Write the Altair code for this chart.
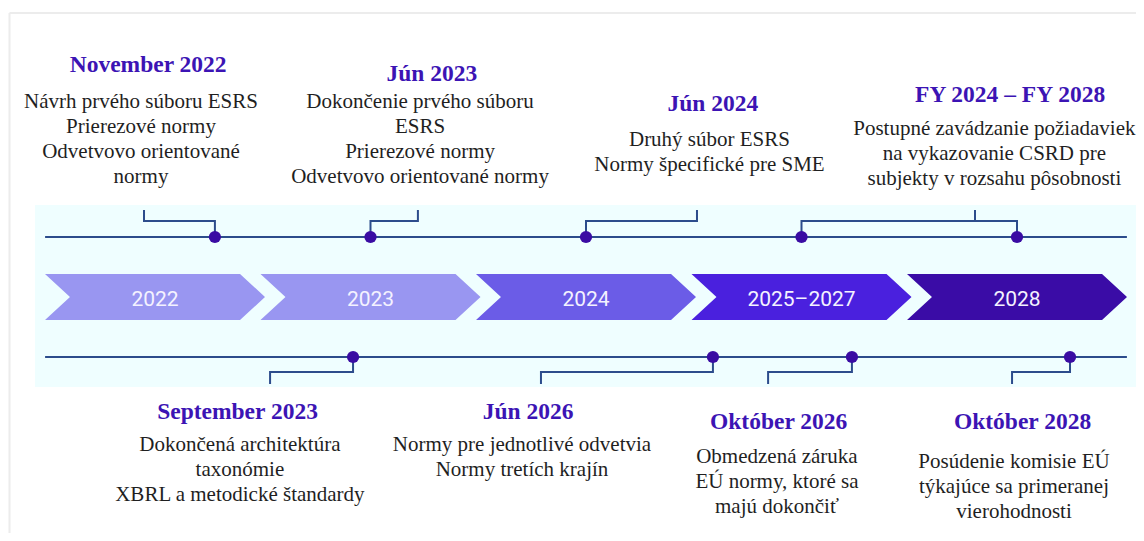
import altair as alt
import pandas as pd

# ---------------- data ----------------
periods = ["2022", "2023", "2024", "2025–2027", "2028"]
period_pos = [0, 1, 2, 3, 4]  # timeline slot of each period

top_titles = ["November 2022", "Jún 2023", "Jún 2024", "FY 2024 – FY 2028"]
top_bodies = [
    ["Návrh prvého súboru ESRS", "Prierezové normy", "Odvetvovo orientované", "normy"],
    ["Dokončenie prvého súboru", "ESRS", "Prierezové normy", "Odvetvovo orientované normy"],
    ["Druhý súbor ESRS", "Normy špecifické pre SME"],
    ["Postupné zavádzanie požiadaviek", "na vykazovanie CSRD pre", "subjekty v rozsahu pôsobnosti"],
]
top_dots = [[0.278], [1.0], [2.0], [3.0, 4.0]]
top_ticks = [-0.051, 1.220, 2.515, 3.805]
top_title_pos = [-0.032, 1.285, 2.589, 3.968]
top_body_pos = [-0.065, 1.230, 2.573, 3.895]

bottom_titles = ["September 2023", "Jún 2026", "Október 2026", "Október 2028"]
bottom_bodies = [
    ["Dokončená architektúra", "taxonómie", "XBRL a metodické štandardy"],
    ["Normy pre jednotlivé odvetvia", "Normy tretích krajín"],
    ["Obmedzená záruka", "EÚ normy, ktoré sa", "majú dokončiť"],
    ["Posúdenie komisie EÚ", "týkajúce sa primeranej", "vierohodnosti"],
]
bottom_dots = [[0.919], [2.589], [3.234], [4.246]]
bottom_ticks = [0.534, 1.791, 2.845, 3.977]
bottom_title_pos = [0.383, 1.731, 2.894, 4.026]
bottom_body_pos = [0.394, 1.703, 2.886, 3.986]

# ---------------- layout / style ----------------
W, H = 1128, 525
X0, SLOT = 155.0, 215.5           # image px of slot 0 and px per slot
XMIN = (8 - X0) / SLOT
XMAX = (8 + W - X0) / SLOT
LINE_START, LINE_END = -0.510, 4.510
BAND_START = -0.557
CARD_X = (9.5 - X0) / SLOT

TOP_TITLE_Y = [72, 81, 111, 102]
TOP_BODY_Y = [108, 108, 146, 135]
BOT_TITLE_Y = [419, 419, 429, 429]
BOT_BODY_Y = [451, 451, 463, 468]
LINE_H = 25
TOP_LINE_Y, TOP_MID_Y, TOP_TICK_Y = 237, 221, 210
BOT_LINE_Y, BOT_MID_Y, BOT_TICK_Y = 357, 372, 384
CHEV_Y, CHEV_TEXT_Y = 297, 305.5

CHEV_COLORS = ["#9996F1", "#9996F1", "#6B5CE7", "#4A20DE", "#3A0CA6"]
CHEV_PATH = "M -1 -0.209 L 0.773 -0.209 L 1 0 L 0.773 0.209 L -1 0.209 L -0.773 0 Z"
LINE_COLOR = "#2C4C8C"
DOT_COLOR = "#3A0CA3"
TITLE_COLOR = "#3C14B4"
BODY_COLOR = "#1F1F1F"
SERIF = "Liberation Serif"

xs = alt.Scale(domain=[XMIN, XMAX], nice=False, zero=False)
ys = alt.Scale(domain=[8, 8 + H], nice=False, zero=False, reverse=True)


def X(f="x"):
    return alt.X(f"{f}:Q", scale=xs, axis=None)


def Y(f="y"):
    return alt.Y(f"{f}:Q", scale=ys, axis=None)


# card border
card_v = alt.Chart(pd.DataFrame({"x": [CARD_X], "y": [13], "y2": [560]})).mark_rule(
    color="#ECECEC", strokeWidth=2
).encode(x=X(), y=Y(), y2="y2:Q")
card_h = alt.Chart(pd.DataFrame({"x": [CARD_X], "x2": [XMAX + 1], "y": [13]})).mark_rule(
    color="#ECECEC", strokeWidth=2
).encode(x=X(), x2="x2:Q", y=Y())

band = alt.Chart(pd.DataFrame({"x": [BAND_START], "x2": [XMAX + 1], "y": [205], "y2": [387]})).mark_rect(
    color="#EFFEFF"
).encode(x=X(), x2="x2:Q", y=Y(), y2="y2:Q")

chev_df = pd.DataFrame({"period": periods, "x": period_pos, "y": [CHEV_Y] * len(periods)})
chevrons = alt.Chart(chev_df).mark_point(
    shape=CHEV_PATH, size=48400, filled=True, opacity=1, strokeWidth=0
).encode(
    x=X(), y=Y(),
    color=alt.Color("period:N", scale=alt.Scale(domain=periods, range=CHEV_COLORS), legend=None),
)
chev_text = alt.Chart(
    pd.DataFrame({"period": periods, "x": period_pos, "y": [CHEV_TEXT_Y] * len(periods)})
).mark_text(font="Roboto", fontSize=21, color="#F4F2FF", baseline="alphabetic", align="center").encode(
    x=X(), y=Y(), text="period:N"
)

rules = alt.Chart(pd.DataFrame({
    "x": [LINE_START, LINE_START], "x2": [LINE_END, LINE_END], "y": [TOP_LINE_Y, BOT_LINE_Y]
})).mark_rule(color=LINE_COLOR, strokeWidth=2).encode(x=X(), x2="x2:Q", y=Y())

# brackets
rows = []
bid = 0


def add_bracket(dots, tick, line_y, mid_y, tick_y):
    global bid
    if len(dots) == 1:
        pts = [(tick, tick_y), (tick, mid_y), (dots[0], mid_y), (dots[0], line_y)]
        for k, (px, py) in enumerate(pts):
            rows.append({"id": bid, "k": k, "x": px, "y": py})
        bid += 1
    else:
        pts = [(dots[0], line_y), (dots[0], mid_y), (dots[1], mid_y), (dots[1], line_y)]
        for k, (px, py) in enumerate(pts):
            rows.append({"id": bid, "k": k, "x": px, "y": py})
        bid += 1
        for k, (px, py) in enumerate([(tick, mid_y), (tick, tick_y)]):
            rows.append({"id": bid, "k": k, "x": px, "y": py})
        bid += 1


for d, t in zip(top_dots, top_ticks):
    add_bracket(d, t, TOP_LINE_Y, TOP_MID_Y, TOP_TICK_Y)
for d, t in zip(bottom_dots, bottom_ticks):
    add_bracket(d, t, BOT_LINE_Y, BOT_MID_Y, BOT_TICK_Y)

brackets = alt.Chart(pd.DataFrame(rows)).mark_line(
    color=LINE_COLOR, strokeWidth=2, strokeJoin="miter", strokeCap="butt"
).encode(x=X(), y=Y(), detail="id:N", order="k:Q")

dot_rows = []
for d in top_dots:
    for v in d:
        dot_rows.append({"x": v, "y": TOP_LINE_Y})
for d in bottom_dots:
    for v in d:
        dot_rows.append({"x": v, "y": BOT_LINE_Y})
dots = alt.Chart(pd.DataFrame(dot_rows)).mark_circle(
    size=150, color=DOT_COLOR, opacity=1
).encode(x=X(), y=Y())

# texts
title_rows, body_rows = [], []
for i, t in enumerate(top_titles):
    title_rows.append({"x": top_title_pos[i], "y": TOP_TITLE_Y[i], "t": t})
    for j, line in enumerate(top_bodies[i]):
        body_rows.append({"x": top_body_pos[i], "y": TOP_BODY_Y[i] + j * LINE_H, "t": line})
for i, t in enumerate(bottom_titles):
    title_rows.append({"x": bottom_title_pos[i], "y": BOT_TITLE_Y[i], "t": t})
    for j, line in enumerate(bottom_bodies[i]):
        body_rows.append({"x": bottom_body_pos[i], "y": BOT_BODY_Y[i] + j * LINE_H, "t": line})

titles = alt.Chart(pd.DataFrame(title_rows)).mark_text(
    font=SERIF, fontSize=23.5, fontWeight="bold", color=TITLE_COLOR, baseline="alphabetic", align="center"
).encode(x=X(), y=Y(), text="t:N")
bodies = alt.Chart(pd.DataFrame(body_rows)).mark_text(
    font=SERIF, fontSize=21, color=BODY_COLOR, baseline="alphabetic", align="center"
).encode(x=X(), y=Y(), text="t:N")

chart = alt.layer(
    card_v, card_h, band, chevrons, chev_text, rules, brackets, dots, titles, bodies
).properties(
    width=W, height=H, autosize=alt.AutoSizeParams(type="none"), padding=0, background="white"
).configure_view(stroke=None)

chart.save("out.html", embed_options={"renderer": "svg", "actions": False})
